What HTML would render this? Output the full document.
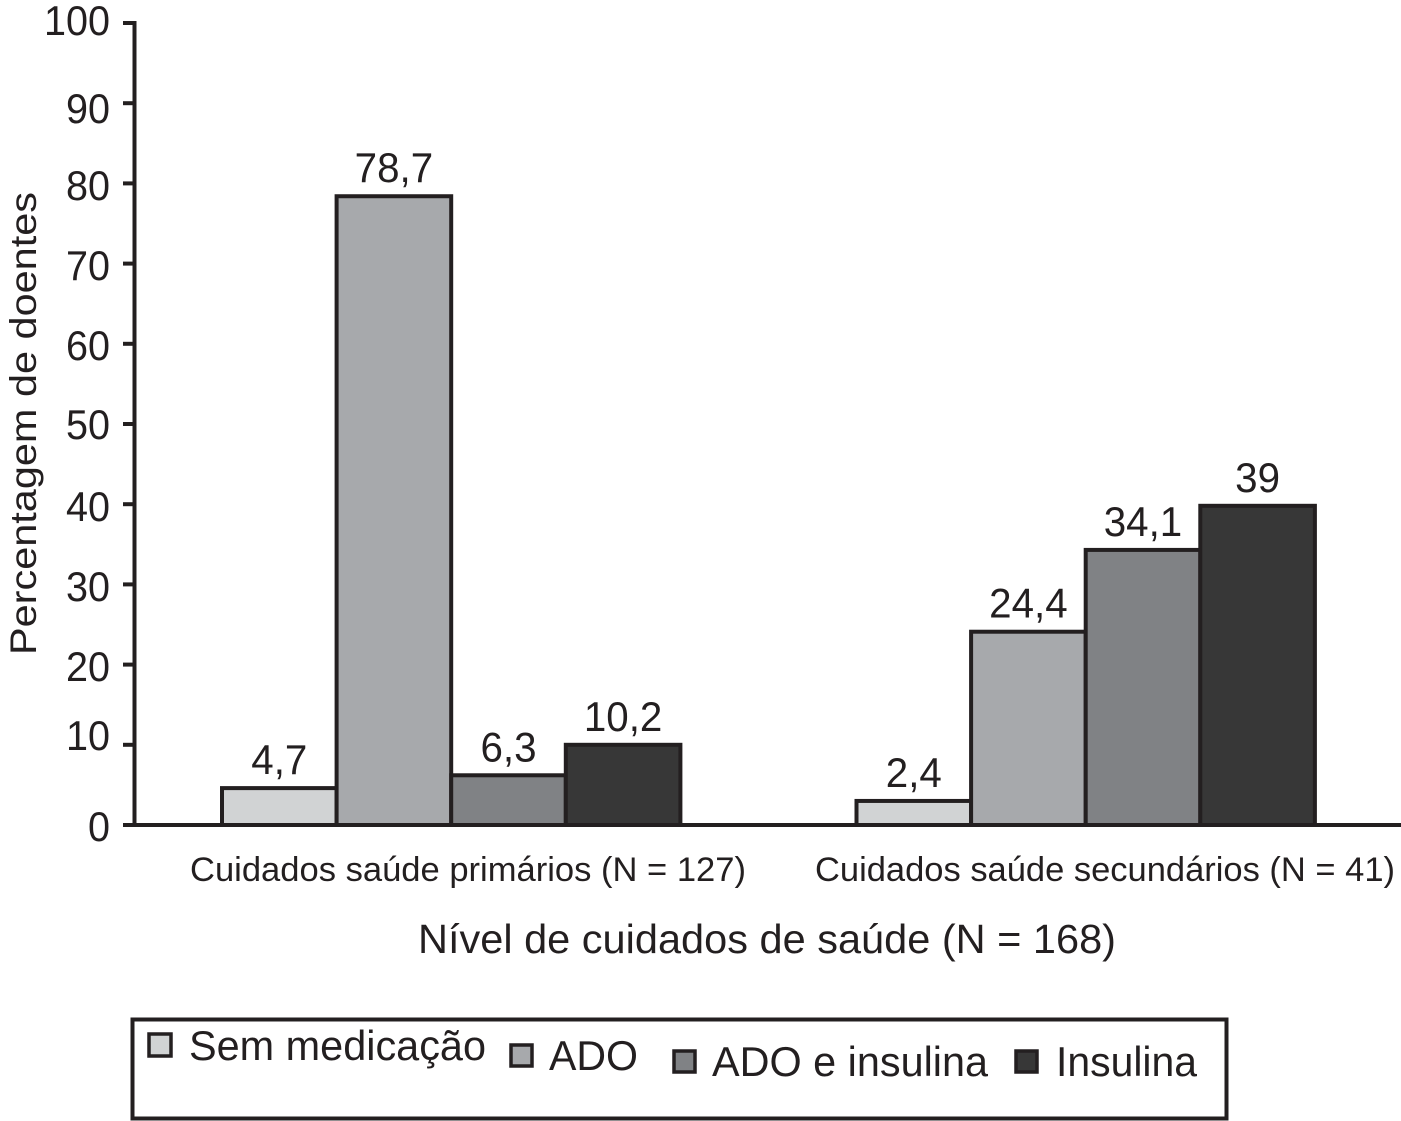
<!DOCTYPE html>
<html lang="pt">
<head>
<meta charset="utf-8">
<title>Percentagem de doentes por nível de cuidados de saúde</title>
<style>
html,body{margin:0;padding:0;background:#fff;}
svg{display:block;}
text{font-family:"Liberation Sans",sans-serif;fill:#231f20;}
</style>
</head>
<body>
<svg id="chart" width="1401" height="1121" viewBox="0 0 1401 1121" xmlns="http://www.w3.org/2000/svg">
  <rect x="0" y="0" width="1401" height="1121" fill="#ffffff"/>
  <g id="bars"></g>
  <g id="value-labels"></g>
  <g id="axes"></g>

  <g font-size="42" text-anchor="end">
    <text x="110" y="35" textLength="66" lengthAdjust="spacingAndGlyphs">100</text>
    <text x="110" y="123" textLength="44" lengthAdjust="spacingAndGlyphs">90</text>
    <text x="110" y="200" textLength="44" lengthAdjust="spacingAndGlyphs">80</text>
    <text x="110" y="280" textLength="44" lengthAdjust="spacingAndGlyphs">70</text>
    <text x="110" y="360" textLength="44" lengthAdjust="spacingAndGlyphs">60</text>
    <text x="110" y="439" textLength="44" lengthAdjust="spacingAndGlyphs">50</text>
    <text x="110" y="521" textLength="44" lengthAdjust="spacingAndGlyphs">40</text>
    <text x="110" y="601" textLength="44" lengthAdjust="spacingAndGlyphs">30</text>
    <text x="110" y="681" textLength="44" lengthAdjust="spacingAndGlyphs">20</text>
    <text x="110" y="750" textLength="44" lengthAdjust="spacingAndGlyphs">10</text>
    <text x="110" y="841" textLength="22" lengthAdjust="spacingAndGlyphs">0</text>
  </g>

  <text transform="translate(36 655) rotate(-90)" font-size="37" textLength="463" lengthAdjust="spacingAndGlyphs">Percentagem de doentes</text>
  <text x="190" y="881" font-size="34" textLength="556" lengthAdjust="spacingAndGlyphs">Cuidados saúde primários (N = 127)</text>
  <text x="815" y="881" font-size="34" textLength="580" lengthAdjust="spacingAndGlyphs">Cuidados saúde secundários (N = 41)</text>
  <text x="418" y="953" font-size="41" textLength="698" lengthAdjust="spacingAndGlyphs">Nível de cuidados de saúde (N = 168)</text>

  <g>
    <rect x="132.5" y="1019.5" width="1094" height="99" fill="#ffffff" stroke="#231f20" stroke-width="4"/>
    <g>
      <rect x="149" y="1034" width="22" height="22" fill="#d1d3d4" stroke="#231f20" stroke-width="3.5"/>
      <text x="189" y="1060" font-size="42" textLength="297" lengthAdjust="spacingAndGlyphs">Sem medicação</text>
    </g>
    <g>
      <rect x="511" y="1045" width="21" height="21" fill="#a7a9ac" stroke="#231f20" stroke-width="3.5"/>
      <text x="549" y="1070" font-size="42" textLength="89" lengthAdjust="spacingAndGlyphs">ADO</text>
    </g>
    <g>
      <rect x="674" y="1051" width="21" height="21" fill="#808285" stroke="#231f20" stroke-width="3.5"/>
      <text x="712" y="1076" font-size="42" textLength="276" lengthAdjust="spacingAndGlyphs">ADO e insulina</text>
    </g>
    <g>
      <rect x="1016" y="1051" width="21" height="21" fill="#373737" stroke="#231f20" stroke-width="3.5"/>
      <text x="1056" y="1076" font-size="42" textLength="141" lengthAdjust="spacingAndGlyphs">Insulina</text>
    </g>
  </g>
</svg>

<script>
// Data. Bar heights are as drawn; printed labels are as printed.
const categories = ['primarios', 'secundarios'];
const seriesNames = ['sem-medicacao', 'ado', 'ado-e-insulina', 'insulina'];
const primaryValues = [4.6, 78.4, 6.2, 10];
const secondaryValues = [3, 24.1, 34.3, 39.8];
const primaryLabels = ['4,7', '78,7', '6,3', '10,2'];
const secondaryLabels = ['2,4', '24,4', '34,1', '39'];
const yTicks = [0, 10, 20, 30, 40, 50, 60, 70, 80, 90, 100];
const seriesColors = ['#d1d3d4', '#a7a9ac', '#808285', '#373737'];

const SVG_NS = 'http://www.w3.org/2000/svg';
const INK = '#231f20';
const plot = { x0: 134.5, right: 1401, y0: 825, yTop: 23, groupLeft0: 222, groupStep: 634.5, barWidth: 114.6, labelGap: 14 };

function yScale(v) {
  return plot.y0 - (v / 100) * (plot.y0 - plot.yTop);
}
function xBar(categoryIndex, seriesIndex) {
  return plot.groupLeft0 + categoryIndex * plot.groupStep + seriesIndex * plot.barWidth;
}
function line(parent, x1, y1, x2, y2, width) {
  const el = document.createElementNS(SVG_NS, 'line');
  el.setAttribute('x1', x1);
  el.setAttribute('y1', y1);
  el.setAttribute('x2', x2);
  el.setAttribute('y2', y2);
  el.setAttribute('stroke', INK);
  el.setAttribute('stroke-width', width);
  parent.appendChild(el);
  return el;
}

const barsGroup = document.getElementById('bars');
const labelsGroup = document.getElementById('value-labels');
const axesGroup = document.getElementById('axes');

function drawCategory(categoryIndex, values, labels) {
  values.forEach(function (value, seriesIndex) {
    const top = yScale(value);
    const bar = document.createElementNS(SVG_NS, 'rect');
    
    
    bar.setAttribute('x', xBar(categoryIndex, seriesIndex));
    bar.setAttribute('y', top);
    bar.setAttribute('width', plot.barWidth);
    bar.setAttribute('height', plot.y0 - top);
    bar.setAttribute('fill', seriesColors[seriesIndex]);
    bar.setAttribute('stroke', INK);
    bar.setAttribute('stroke-width', 4);
    barsGroup.appendChild(bar);

    const text = document.createElementNS(SVG_NS, 'text');
    
    
    text.setAttribute('x', xBar(categoryIndex, seriesIndex) + plot.barWidth / 2);
    text.setAttribute('y', top - plot.labelGap);
    text.setAttribute('font-size', 42);
    text.setAttribute('text-anchor', 'middle');
    text.textContent = labels[seriesIndex];
    labelsGroup.appendChild(text);
    text.setAttribute('lengthAdjust', 'spacingAndGlyphs');
    text.setAttribute('textLength', text.getComputedTextLength() * 0.96);
  });
}

drawCategory(0, primaryValues, primaryLabels);
drawCategory(1, secondaryValues, secondaryLabels);

const yAxisLine = line(axesGroup, plot.x0, yScale(100) - 2, plot.x0, plot.y0, 4);



const xAxisLine = line(axesGroup, plot.x0, plot.y0, plot.right, plot.y0, 4);



yTicks.forEach(function (tick) {
  const mark = line(axesGroup, 123, yScale(tick), plot.x0, yScale(tick), 4);
  
  
});
</script>
</body>
</html>
